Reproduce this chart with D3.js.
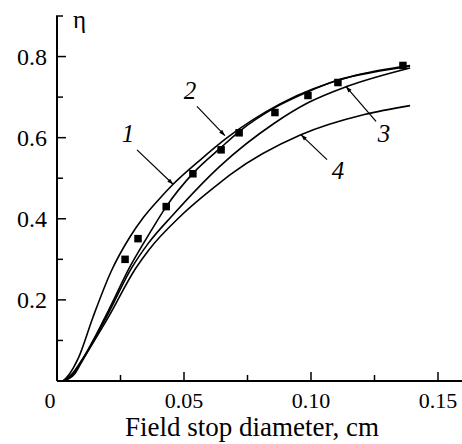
<!DOCTYPE html>
<html>
<head>
<meta charset="utf-8">
<script src="https://cdn.jsdelivr.net/npm/d3@7"></script>
<style>
  body { margin: 0; background: #fff; }
  svg text { font-family: "Liberation Serif", "Times New Roman", "DejaVu Serif", serif; }
</style>
</head>
<body>
<div id="chart"></div>
<script>
// curves: [diameter, eta]
const curve1 = [[0.0024,0],[0.005,0.018],[0.0083,0.055],[0.0142,0.158],[0.0213,0.27],[0.0287,0.355],[0.034,0.403],[0.040,0.447],[0.0457,0.485],[0.056,0.543],[0.067,0.6],[0.088,0.684],[0.1165,0.752],[0.139,0.778]];
const curve2 = [[0.0024,0],[0.006,0.018],[0.0098,0.052],[0.019,0.158],[0.029,0.285],[0.037,0.37],[0.043,0.43],[0.0535,0.512],[0.0646,0.576],[0.0717,0.615],[0.0858,0.674],[0.0988,0.713],[0.1106,0.742],[0.125,0.762],[0.139,0.776]];
const curve3 = [[0.0024,0],[0.0065,0.018],[0.0098,0.05],[0.0195,0.158],[0.0295,0.28],[0.036,0.34],[0.0457,0.41],[0.0642,0.53],[0.0854,0.635],[0.0988,0.686],[0.114,0.726],[0.139,0.772]];
const curve4 = [[0.0024,0],[0.007,0.018],[0.0098,0.048],[0.020,0.155],[0.031,0.278],[0.036,0.322],[0.0484,0.405],[0.0642,0.489],[0.0685,0.51],[0.096,0.607],[0.121,0.657],[0.139,0.679]];

// measured points (squares)
const pointX = [0.0268,0.0319,0.043,0.0535,0.0646,0.0717,0.0858,0.0988,0.1106,0.1362];
const pointY = [0.30,0.351,0.43,0.511,0.57,0.612,0.662,0.704,0.736,0.778];

const xTicks = [0, 0.05, 0.10, 0.15];
const xTickLabels = ["0", "0.05", "0.10", "0.15"];
const xMinor = [0.025, 0.075, 0.125];
const yTicks = [0.2, 0.4, 0.6, 0.8];
const yTickLabels = ["0.2", "0.4", "0.6", "0.8"];
const yMinor = [0.1, 0.3, 0.5, 0.7];

// curve labels: text position and arrow from -> to (data units)
const labels = [
  { text: "1", x: 0.0280, y: 0.590, from: [0.0315, 0.570], to: [0.0457, 0.485] },
  { text: "2", x: 0.0524, y: 0.696, from: [0.0551, 0.677], to: [0.0661, 0.605] },
  { text: "3", x: 0.1287, y: 0.590, from: [0.1256, 0.640], to: [0.1138, 0.726] },
  { text: "4", x: 0.1106, y: 0.499, from: [0.1063, 0.546], to: [0.0961, 0.607] }
];

const W = 462, H = 444;
const margin = { left: 57, top: 16, right: 0, bottom: 63 };

const svg = d3.select("#chart").append("svg")
    .attr("width", W).attr("height", H);

const x = d3.scaleLinear().domain([0, 0.16]).range([margin.left, margin.left + 0.16 * 2540]);
const y = d3.scaleLinear().domain([0, 0.9]).range([H - margin.bottom, margin.top]);

svg.append("defs").append("marker")
    .attr("id", "arrow")
    .attr("viewBox", "0 0 10 10")
    .attr("refX", 10).attr("refY", 5)
    .attr("markerWidth", 8).attr("markerHeight", 6)
    .attr("markerUnits", "userSpaceOnUse")
    .attr("orient", "auto")
  .append("path")
    .attr("d", "M0,1.5 L10,5 L0,8.5 Z")
    .attr("fill", "#000");

// axes
const gx = svg.append("g");
gx.append("line")
    .attr("x1", x(0)).attr("x2", W)
    .attr("y1", y(0)).attr("y2", y(0))
    .attr("stroke", "#000").attr("stroke-width", 2);
gx.selectAll(".tick").data(xTicks.slice(1)).enter().append("line")
    .attr("x1", d => x(d)).attr("x2", d => x(d))
    .attr("y1", y(0)).attr("y2", y(0) - 9)
    .attr("stroke", "#000").attr("stroke-width", 1.5);
gx.selectAll(".minor").data(xMinor).enter().append("line")
    .attr("x1", d => x(d)).attr("x2", d => x(d))
    .attr("y1", y(0)).attr("y2", y(0) - 6)
    .attr("stroke", "#000").attr("stroke-width", 1.5);
gx.selectAll("text").data(xTicks).enter().append("text")
    .attr("x", (d, i) => i === 0 ? x(d) - 7 : x(d))
    .attr("y", y(0) + 27)
    .attr("text-anchor", "middle")
    .attr("font-size", 22)
    .text((d, i) => xTickLabels[i]);

const gy = svg.append("g");
gy.append("line")
    .attr("x1", x(0)).attr("x2", x(0))
    .attr("y1", y(0)).attr("y2", y(0.9))
    .attr("stroke", "#000").attr("stroke-width", 2);
gy.append("line")
    .attr("x1", x(0) - 1).attr("x2", x(0) + 6)
    .attr("y1", y(0.9)).attr("y2", y(0.9))
    .attr("stroke", "#000").attr("stroke-width", 1.5);
gy.selectAll(".tick").data(yTicks).enter().append("line")
    .attr("x1", x(0)).attr("x2", x(0) + 9)
    .attr("y1", d => y(d)).attr("y2", d => y(d))
    .attr("stroke", "#000").attr("stroke-width", 1.5);
gy.selectAll(".minor").data(yMinor).enter().append("line")
    .attr("x1", x(0)).attr("x2", x(0) + 6)
    .attr("y1", d => y(d)).attr("y2", d => y(d))
    .attr("stroke", "#000").attr("stroke-width", 1.5);
gy.selectAll("text").data(yTicks).enter().append("text")
    .attr("x", x(0) - 10)
    .attr("y", d => y(d) + 8)
    .attr("text-anchor", "end")
    .attr("font-size", 24)
    .text((d, i) => yTickLabels[i]);

svg.append("text")
    .attr("x", x(0) + 16).attr("y", y(0.9) + 12)
    .attr("font-size", 25)
    .text("η");

svg.append("text")
    .attr("x", 252).attr("y", H - 8)
    .attr("text-anchor", "middle")
    .attr("font-size", 27)
    .text("Field stop diameter, cm");

// curves
const line = d3.line()
    .x(d => x(d[0]))
    .y(d => y(d[1]))
    .curve(d3.curveMonotoneX);

svg.selectAll(".curve").data([curve1, curve2, curve3, curve4]).enter().append("path")
    .attr("class", "curve")
    .attr("d", line)
    .attr("fill", "none")
    .attr("stroke", "#000")
    .attr("stroke-width", 1.6);

// squares
const sq = 7.5;
svg.selectAll(".pt").data(pointX).enter().append("rect")
    .attr("x", d => x(d) - sq / 2)
    .attr("y", (d, i) => y(pointY[i]) - sq / 2)
    .attr("width", sq).attr("height", sq)
    .attr("fill", "#000");

// labels with arrows
svg.selectAll(".arr").data(labels).enter().append("line")
    .attr("x1", d => x(d.from[0])).attr("y1", d => y(d.from[1]))
    .attr("x2", d => x(d.to[0])).attr("y2", d => y(d.to[1]))
    .attr("stroke", "#000").attr("stroke-width", 1.2)
    .attr("marker-end", "url(#arrow)");

svg.selectAll(".lab").data(labels).enter().append("text")
    .attr("x", d => x(d.x)).attr("y", d => y(d.y))
    .attr("text-anchor", "middle")
    .attr("font-size", 25)
    .attr("font-style", "italic")
    .text(d => d.text);
</script>
</body>
</html>
